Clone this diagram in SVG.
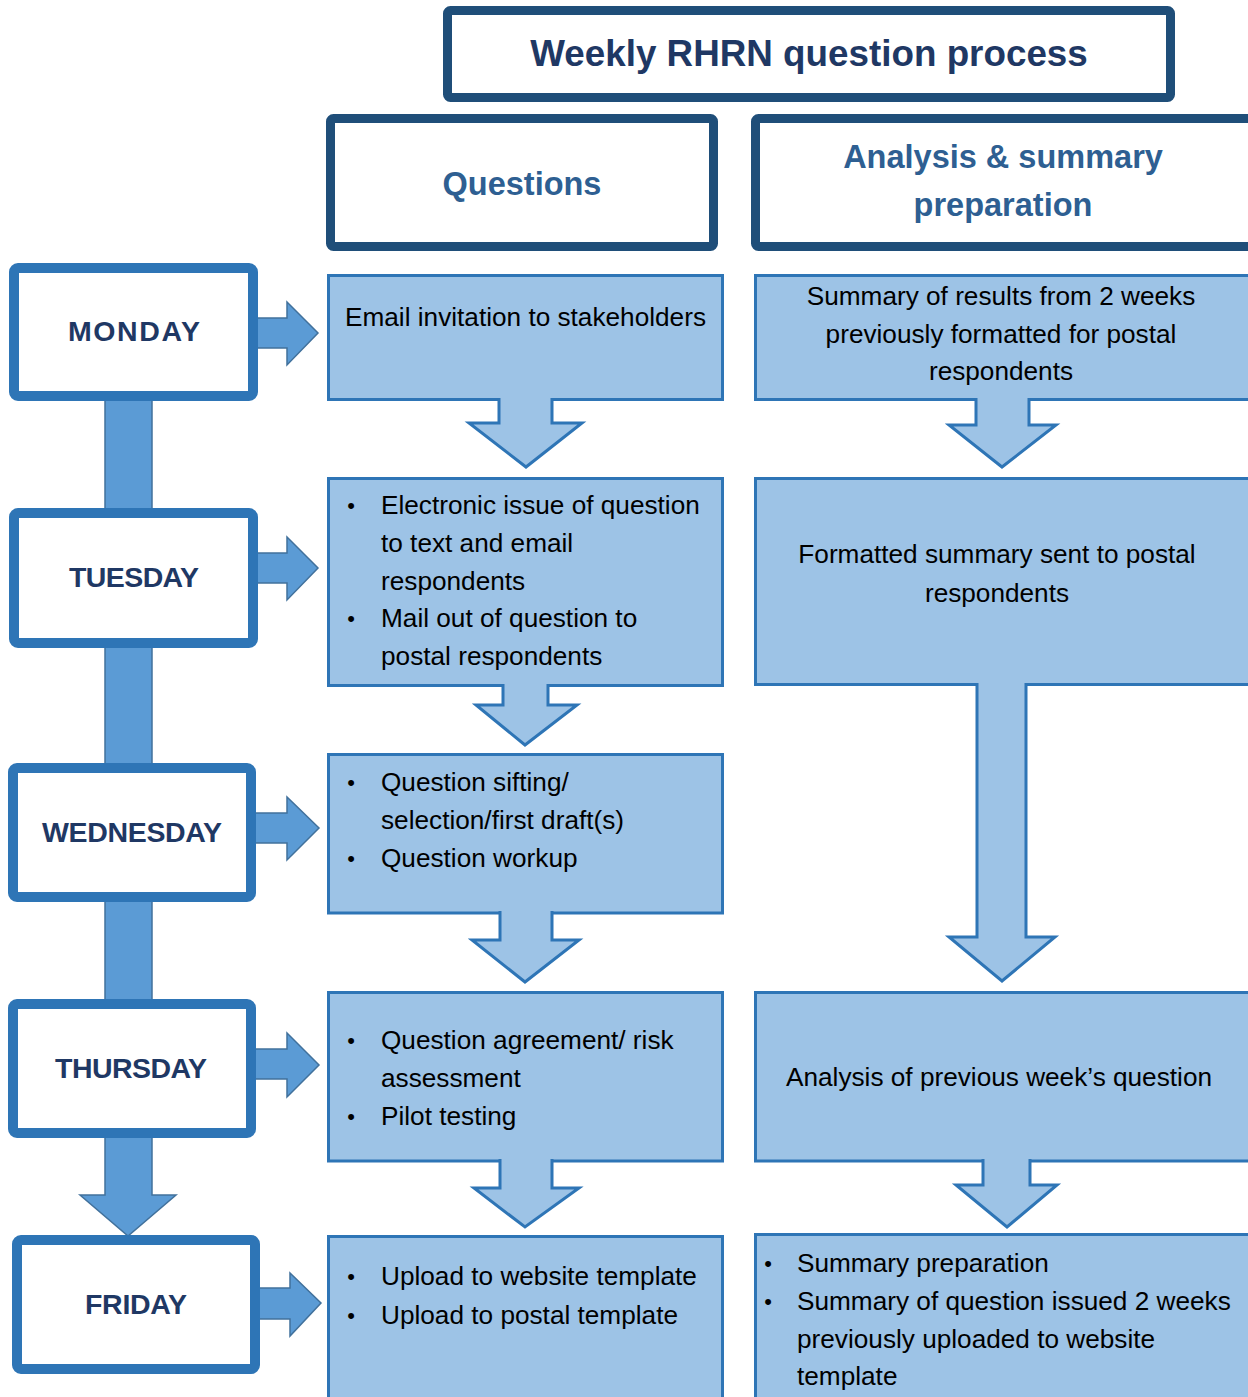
<svg xmlns="http://www.w3.org/2000/svg" width="1248" height="1397" viewBox="0 0 1248 1397">
<style>
.hdr{fill:#ffffff;stroke:#1f4e79;stroke-width:9}
.day{fill:#ffffff;stroke:#2e75b6;stroke-width:10}
.box{fill:#9dc3e6;stroke:#2e75b6;stroke-width:3}
.darr{fill:#9dc3e6;stroke:#2e75b6;stroke-width:3;stroke-linejoin:miter}
.conn{fill:#5b9bd5;stroke:#41719c;stroke-width:1.5}
.t{font-family:"Liberation Sans",Arial,sans-serif;font-size:26.2px;fill:#000000}
.c{text-anchor:middle}
.daytxt{font-family:"Liberation Sans",Arial,sans-serif;font-size:28.5px;font-weight:bold;fill:#1f3864;text-anchor:middle}
.title{font-family:"Liberation Sans",Arial,sans-serif;font-size:36.8px;font-weight:bold;fill:#1f3864;text-anchor:middle}
.colh{font-family:"Liberation Sans",Arial,sans-serif;font-size:32.5px;font-weight:bold;fill:#2e5f92;text-anchor:middle}
.b{font-family:"Liberation Sans",Arial,sans-serif;font-size:22px;fill:#000000;text-anchor:middle}
</style>

<!-- connectors -->
<g id="connectors">
  <rect class="conn" x="105" y="396" width="47" height="117"/>
  <rect class="conn" x="105" y="643" width="47" height="125"/>
  <rect class="conn" x="105" y="897" width="47" height="107"/>
  <path class="conn" d="M105 1133 L105 1195 L80 1195 L128 1236 L176 1195 L152 1195 L152 1133 Z"/>
  <path class="conn" d="M256 318 L287 318 L287 302 L318 333 L287 365 L287 348 L256 348 Z"/>
  <path class="conn" d="M256 553 L287 553 L287 537 L318 568 L287 600 L287 583 L256 583 Z"/>
  <path class="conn" d="M254 813 L287 813 L287 797 L319 828 L287 860 L287 843 L254 843 Z"/>
  <path class="conn" d="M254 1049 L287 1049 L287 1033 L319 1065 L287 1097 L287 1079 L254 1079 Z"/>
  <path class="conn" d="M258 1288 L290 1288 L290 1273 L321 1303 L290 1336 L290 1319 L258 1319 Z"/>
</g>

<!-- headers -->
<g id="title">
  <rect class="hdr" x="447.5" y="10.5" width="723" height="87" rx="3"/>
  <text class="title" x="809" y="66">Weekly RHRN question process</text>
</g>
<g id="col-questions">
  <rect class="hdr" x="330.5" y="118.5" width="383" height="128" rx="3"/>
  <text class="colh" x="522" y="195">Questions</text>
</g>
<g id="col-analysis">
  <rect class="hdr" x="755.5" y="118.5" width="500" height="128" rx="3"/>
  <text class="colh" x="1003" y="168">Analysis &amp; summary</text>
  <text class="colh" x="1003" y="216">preparation</text>
</g>

<!-- day boxes -->
<g id="monday">
  <rect class="day" x="14" y="268" width="239" height="128" rx="4"/>
  <text class="daytxt" x="134" y="341" textLength="132">MONDAY</text>
</g>
<g id="tuesday">
  <rect class="day" x="14" y="513" width="239" height="130" rx="4"/>
  <text class="daytxt" x="134" y="587" textLength="130">TUESDAY</text>
</g>
<g id="wednesday">
  <rect class="day" x="13" y="768" width="238" height="129" rx="4"/>
  <text class="daytxt" x="132" y="842" textLength="180">WEDNESDAY</text>
</g>
<g id="thursday">
  <rect class="day" x="13" y="1004" width="238" height="129" rx="4"/>
  <text class="daytxt" x="131" y="1078" textLength="152">THURSDAY</text>
</g>
<g id="friday">
  <rect class="day" x="17" y="1240" width="238" height="129" rx="4"/>
  <text class="daytxt" x="136" y="1314" textLength="102">FRIDAY</text>
</g>

<!-- question column -->
<g id="q1">
  <rect class="box" x="328.5" y="275.5" width="394" height="124"/>
  <text class="t" x="345" y="326">Email invitation to stakeholders</text>
</g>
<g id="q2">
  <rect class="box" x="328.5" y="478.5" width="394" height="207"/>
  <text class="b" x="351" y="513">•</text>
  <text class="t" x="381" y="514">Electronic issue of question</text>
  <text class="t" x="381" y="552">to text and email</text>
  <text class="t" x="381" y="590">respondents</text>
  <text class="b" x="351" y="626">•</text>
  <text class="t" x="381" y="627">Mail out of question to</text>
  <text class="t" x="381" y="665">postal respondents</text>
</g>
<g id="q3">
  <rect class="box" x="328.5" y="754.5" width="394" height="158.5"/>
  <text class="b" x="351" y="790">•</text>
  <text class="t" x="381" y="791">Question sifting/</text>
  <text class="t" x="381" y="829">selection/first draft(s)</text>
  <text class="b" x="351" y="866">•</text>
  <text class="t" x="381" y="867">Question workup</text>
</g>
<g id="q4">
  <rect class="box" x="328.5" y="992.5" width="394" height="168.5"/>
  <text class="b" x="351" y="1048">•</text>
  <text class="t" x="381" y="1049">Question agreement/ risk</text>
  <text class="t" x="381" y="1087">assessment</text>
  <text class="b" x="351" y="1124">•</text>
  <text class="t" x="381" y="1125">Pilot testing</text>
</g>
<g id="q5">
  <rect class="box" x="328.5" y="1236.5" width="394" height="170"/>
  <text class="b" x="351" y="1284">•</text>
  <text class="t" x="381" y="1285">Upload to website template</text>
  <text class="b" x="351" y="1323">•</text>
  <text class="t" x="381" y="1324">Upload to postal template</text>
</g>

<!-- analysis column -->
<g id="a1">
  <rect class="box" x="755.5" y="275.5" width="500" height="124"/>
  <text class="t c" x="1001" y="305">Summary of results from 2 weeks</text>
  <text class="t c" x="1001" y="343">previously formatted for postal</text>
  <text class="t c" x="1001" y="380">respondents</text>
</g>
<g id="a2">
  <rect class="box" x="755.5" y="478.5" width="500" height="206"/>
  <text class="t c" x="997" y="563">Formatted summary sent to postal</text>
  <text class="t c" x="997" y="602">respondents</text>
</g>
<g id="a3">
  <rect class="box" x="755.5" y="992.5" width="500" height="168.5"/>
  <text class="t c" x="999" y="1086">Analysis of previous week’s question</text>
</g>
<g id="a4">
  <rect class="box" x="755.5" y="1234.5" width="500" height="172"/>
  <text class="b" x="768" y="1271">•</text>
  <text class="t" x="797" y="1272">Summary preparation</text>
  <text class="b" x="768" y="1309">•</text>
  <text class="t" x="797" y="1310">Summary of question issued 2 weeks</text>
  <text class="t" x="797" y="1348">previously uploaded to website</text>
  <text class="t" x="797" y="1385">template</text>
</g>

<!-- down arrows between process boxes -->
<g id="flow-arrows">
  <path class="darr" d="M499 398 L499 423 L469 423 L526 467 L582 423 L552 423 L552 398"/>
  <path class="darr" d="M503 684 L503 705 L476 705 L525 745 L577 705 L548 705 L548 684"/>
  <path class="darr" d="M500 911 L500 940 L472 940 L525 982 L579 940 L552 940 L552 911"/>
  <path class="darr" d="M500 1159 L500 1188 L474 1188 L525 1227 L579 1188 L552 1188 L552 1159"/>
  <path class="darr" d="M976 398 L976 425 L949 425 L1002 467 L1056 425 L1029 425 L1029 398"/>
  <path class="darr" d="M977 683 L977 937 L949 937 L1002 981 L1055 937 L1026 937 L1026 683"/>
  <path class="darr" d="M983 1159 L983 1185 L956 1185 L1007 1227 L1057 1185 L1030 1185 L1030 1159"/>
</g>
</svg>
